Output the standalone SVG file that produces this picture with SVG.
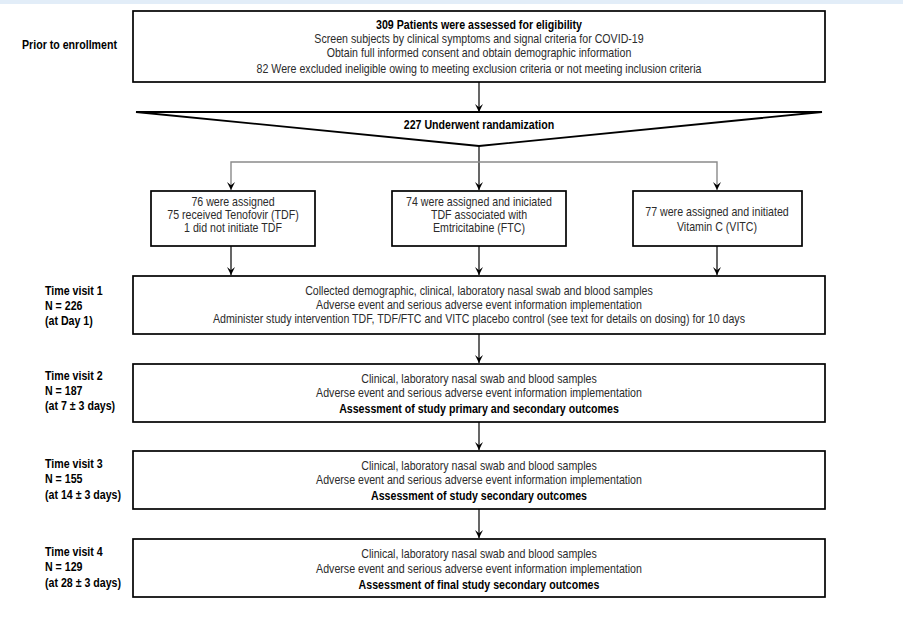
<svg xmlns="http://www.w3.org/2000/svg" width="903" height="619" viewBox="0 0 903 619">
  <defs>
    <marker id="arr" viewBox="0 0 10 10" refX="10" refY="5" markerWidth="8" markerHeight="9" markerUnits="userSpaceOnUse" orient="auto">
      <path d="M0,0 L10,5 L0,10 L4,5 z" fill="#000"/>
    </marker>
    <style>
      .box { fill: #fff; stroke: #000; stroke-width: 1.7; }
      .t { font-family: "Liberation Sans", Arial, sans-serif; font-size: 12.5px; fill: #2b2b2b; text-anchor: middle; }
      .b { font-weight: bold; fill: #000; }
      .lab { font-family: "Liberation Sans", Arial, sans-serif; font-size: 12.5px; font-weight: bold; fill: #000; text-anchor: start; }
      .c { fill: none; stroke: #000; stroke-width: 1.2; }
      .g { fill: none; stroke: #8a8a8a; stroke-width: 1.4; }
    </style>
  </defs>
  <rect x="0" y="0" width="903" height="619" fill="#fff"/>
  <rect x="0" y="0" width="903" height="4" fill="#e2edf8"/>

  <g id="labels">
    <text class="lab" transform="translate(22 49) scale(.85 1)">Prior to enrollment</text>
    <text class="lab" transform="translate(45 295) scale(.85 1)">Time visit 1</text>
    <text class="lab" transform="translate(45 310) scale(.85 1)">N = 226</text>
    <text class="lab" transform="translate(45 325) scale(.85 1)">(at Day 1)</text>
    <text class="lab" transform="translate(45 380) scale(.85 1)">Time visit 2</text>
    <text class="lab" transform="translate(45 395) scale(.85 1)">N = 187</text>
    <text class="lab" transform="translate(45 410) scale(.85 1)">(at 7 ± 3 days)</text>
    <text class="lab" transform="translate(45 468) scale(.85 1)">Time visit 3</text>
    <text class="lab" transform="translate(45 483) scale(.85 1)">N = 155</text>
    <text class="lab" transform="translate(45 499) scale(.85 1)">(at 14 ± 3 days)</text>
    <text class="lab" transform="translate(45 556) scale(.85 1)">Time visit 4</text>
    <text class="lab" transform="translate(45 571) scale(.85 1)">N = 129</text>
    <text class="lab" transform="translate(45 587) scale(.85 1)">(at 28 ± 3 days)</text>
  </g>

  <g id="connectors">
    <line class="c" x1="479" y1="82" x2="479" y2="112" marker-end="url(#arr)"/>
    <line class="c" x1="479" y1="146" x2="479" y2="190" marker-end="url(#arr)"/>
    <path class="g" d="M479,162 H231 V190" marker-end="url(#arr)"/>
    <path class="g" d="M479,162 H717 V190" marker-end="url(#arr)"/>
    <line class="c" x1="231" y1="246" x2="231" y2="275" marker-end="url(#arr)"/>
    <line class="c" x1="479" y1="246" x2="479" y2="275" marker-end="url(#arr)"/>
    <line class="c" x1="717" y1="246" x2="717" y2="275" marker-end="url(#arr)"/>
    <line class="c" x1="479" y1="334" x2="479" y2="363" marker-end="url(#arr)"/>
    <line class="c" x1="479" y1="422" x2="479" y2="450" marker-end="url(#arr)"/>
    <line class="c" x1="479" y1="509" x2="479" y2="538" marker-end="url(#arr)"/>
  </g>

  <g id="eligibility">
    <rect class="box" x="133" y="11" width="692" height="71"/>
    <text class="t b" transform="translate(479 29) scale(.85 1)">309 Patients were assessed for eligibility</text>
    <text class="t" transform="translate(479 43) scale(.85 1)">Screen subjects by clinical symptoms and signal criteria for COVID-19</text>
    <text class="t" transform="translate(479 57) scale(.85 1)">Obtain full informed consent and obtain demographic information</text>
    <text class="t" transform="translate(479 73) scale(.85 1)">82 Were excluded ineligible owing to meeting exclusion criteria or not meeting inclusion criteria</text>
  </g>

  <g id="randomization">
    <polygon points="136,112 822,112 479,146" fill="#fff" stroke="#000" stroke-width="1.8" stroke-linejoin="miter"/>
    <text class="t b" transform="translate(479 128.5) scale(.85 1)">227 Underwent randamization</text>
  </g>

  <g id="arm-tdf">
    <rect class="box" x="151" y="191" width="164" height="55"/>
    <text class="t" transform="translate(233 205.5) scale(.85 1)">76 were assigned</text>
    <text class="t" transform="translate(233 218.5) scale(.85 1)">75 received Tenofovir (TDF)</text>
    <text class="t" transform="translate(233 231.5) scale(.85 1)">1 did not initiate TDF</text>
  </g>

  <g id="arm-tdf-ftc">
    <rect class="box" x="392" y="191" width="174" height="55"/>
    <text class="t" transform="translate(479 205.5) scale(.85 1)">74 were assigned and iniciated</text>
    <text class="t" transform="translate(479 218.5) scale(.85 1)">TDF associated with</text>
    <text class="t" transform="translate(479 231.5) scale(.85 1)">Emtricitabine (FTC)</text>
  </g>

  <g id="arm-vitc">
    <rect class="box" x="633" y="191" width="169" height="55"/>
    <text class="t" transform="translate(717 215.5) scale(.85 1)">77 were assigned and initiated</text>
    <text class="t" transform="translate(717 230.5) scale(.85 1)">Vitamin C (VITC)</text>
  </g>

  <g id="visit1">
    <rect class="box" x="133" y="276" width="692" height="58"/>
    <text class="t" transform="translate(479 294.5) scale(.85 1)">Collected demographic, clinical, laboratory nasal swab and blood samples</text>
    <text class="t" transform="translate(479 308.5) scale(.85 1)">Adverse event and serious adverse event information implementation</text>
    <text class="t" transform="translate(479 322.5) scale(.85 1)">Administer study intervention TDF, TDF/FTC and VITC placebo control (see text for details on dosing) for 10 days</text>
  </g>

  <g id="visit2">
    <rect class="box" x="133" y="364" width="692" height="58"/>
    <text class="t" transform="translate(479 382.5) scale(.85 1)">Clinical, laboratory nasal swab and blood samples</text>
    <text class="t" transform="translate(479 396.5) scale(.85 1)">Adverse  event and serious adverse event information implementation</text>
    <text class="t b" transform="translate(479 412.5) scale(.85 1)">Assessment of study primary and secondary outcomes</text>
  </g>

  <g id="visit3">
    <rect class="box" x="133" y="451" width="692" height="58"/>
    <text class="t" transform="translate(479 469.5) scale(.85 1)">Clinical, laboratory nasal swab and blood samples</text>
    <text class="t" transform="translate(479 483.5) scale(.85 1)">Adverse  event and serious adverse event information implementation</text>
    <text class="t b" transform="translate(479 499.5) scale(.85 1)">Assessment of study secondary outcomes</text>
  </g>

  <g id="visit4">
    <rect class="box" x="133" y="539" width="692" height="58"/>
    <text class="t" transform="translate(479 557.5) scale(.85 1)">Clinical, laboratory nasal swab and blood samples</text>
    <text class="t" transform="translate(479 572.5) scale(.85 1)">Adverse  event and serious adverse event information implementation</text>
    <text class="t b" transform="translate(479 588.5) scale(.85 1)">Assessment of final study secondary outcomes</text>
  </g>
</svg>
